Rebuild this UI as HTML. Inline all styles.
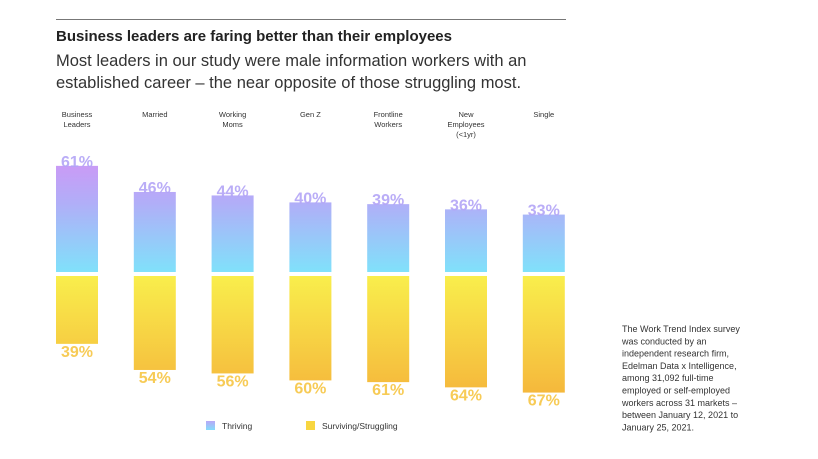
<!DOCTYPE html>
<html><head><meta charset="utf-8"><style>
body{margin:0;width:818px;height:459px;background:#fff;overflow:hidden;font-family:"Liberation Sans",sans-serif;}
svg{position:absolute;left:0;top:0}
</style></head><body>
<svg width="818" height="459">
<defs>
<linearGradient id="gT" gradientUnits="userSpaceOnUse" x1="0" y1="166" x2="0" y2="272">
<stop offset="0" stop-color="#c99bf6"/><stop offset="0.35" stop-color="#b1aef8"/><stop offset="1" stop-color="#80e1fa"/></linearGradient>
<linearGradient id="gB" gradientUnits="userSpaceOnUse" x1="0" y1="276" x2="0" y2="393">
<stop offset="0" stop-color="#f9ee4c"/><stop offset="1" stop-color="#f5b83c"/></linearGradient>
<linearGradient id="gL" x1="0" y1="0" x2="0" y2="1"><stop offset="0" stop-color="#b9a8f7"/><stop offset="1" stop-color="#84dcfa"/></linearGradient>
</defs>
<line x1="56" y1="19.5" x2="566" y2="19.5" stroke="#777" stroke-width="1"/>
<text x="56" y="41" font-size="15" font-weight="bold" fill="#222">Business leaders are faring better than their employees</text>
<text x="56" y="66" font-size="16.5" fill="#333">Most leaders in our study were male information workers with an</text>
<text x="56" y="88" font-size="16.5" fill="#333">established career – the near opposite of those struggling most.</text>
<g id="bars"></g>
<rect x="206" y="421" width="9" height="9" fill="url(#gL)"/>
<text x="222" y="429" font-size="8.5" fill="#333">Thriving</text>
<rect x="306" y="421" width="9" height="9" fill="#f8d640"/>
<text x="322" y="429" font-size="8.5" fill="#333">Surviving/Struggling</text>
<g font-size="9" fill="#333">
<text x="622" y="332">The Work Trend Index survey</text>
<text x="622" y="344.3">was conducted by an</text>
<text x="622" y="356.6">independent research firm,</text>
<text x="622" y="368.9">Edelman Data x Intelligence,</text>
<text x="622" y="381.2">among 31,092 full-time</text>
<text x="622" y="393.5">employed or self-employed</text>
<text x="622" y="405.8">workers across 31 markets –</text>
<text x="622" y="418.1">between January 12, 2021 to</text>
<text x="622" y="430.4">January 25, 2021.</text>
</g>
</svg>
<script>
const categories=[["Business","Leaders"],["Married"],["Working","Moms"],["Gen Z"],["Frontline","Workers"],["New","Employees","(<1yr)"],["Single"]];
const thriving=[61,46,44,40,39,36,33];
const struggling=[39,54,56,60,61,64,67];
const NS="http://www.w3.org/2000/svg";
const g=document.getElementById("bars");
const x0=56,step=77.8,bw=42,topBase=272,botBase=276,k=1.74;
function yTop(v){return topBase-v*k;}
function yBot(v){return botBase+v*k;}
function mk(tag,attrs){const e=document.createElementNS(NS,tag);for(const a in attrs)e.setAttribute(a,attrs[a]);g.appendChild(e);return e;}
categories.forEach((c,i)=>{
  const x=x0+i*step,cx=x+bw/2;
  c.forEach((line,j)=>{const t=mk("text",{x:cx,y:117+j*10,"font-size":"7.5","text-anchor":"middle",fill:"#333"});t.textContent=line;
    
    });
  const r1=mk("rect",{x:x,y:yTop(thriving[i]),width:bw,height:thriving[i]*k,fill:"url(#gT)"});
  
  
  const r2=mk("rect",{x:x,y:botBase,width:bw,height:struggling[i]*k,fill:"url(#gB)"});
  
  
  const t1=mk("text",{x:cx,y:yTop(thriving[i])+1,"font-size":"16","font-weight":"bold","text-anchor":"middle",fill:"#b3a4f6","fill-opacity":"0.9"});
  t1.textContent=thriving[i]+"%";
  
  
  const t2=mk("text",{x:cx,y:yBot(struggling[i])+13,"font-size":"16","font-weight":"bold","text-anchor":"middle",fill:"#f6c544","fill-opacity":"0.9"});
  t2.textContent=struggling[i]+"%";
  
  
});
</script>
</body></html>
